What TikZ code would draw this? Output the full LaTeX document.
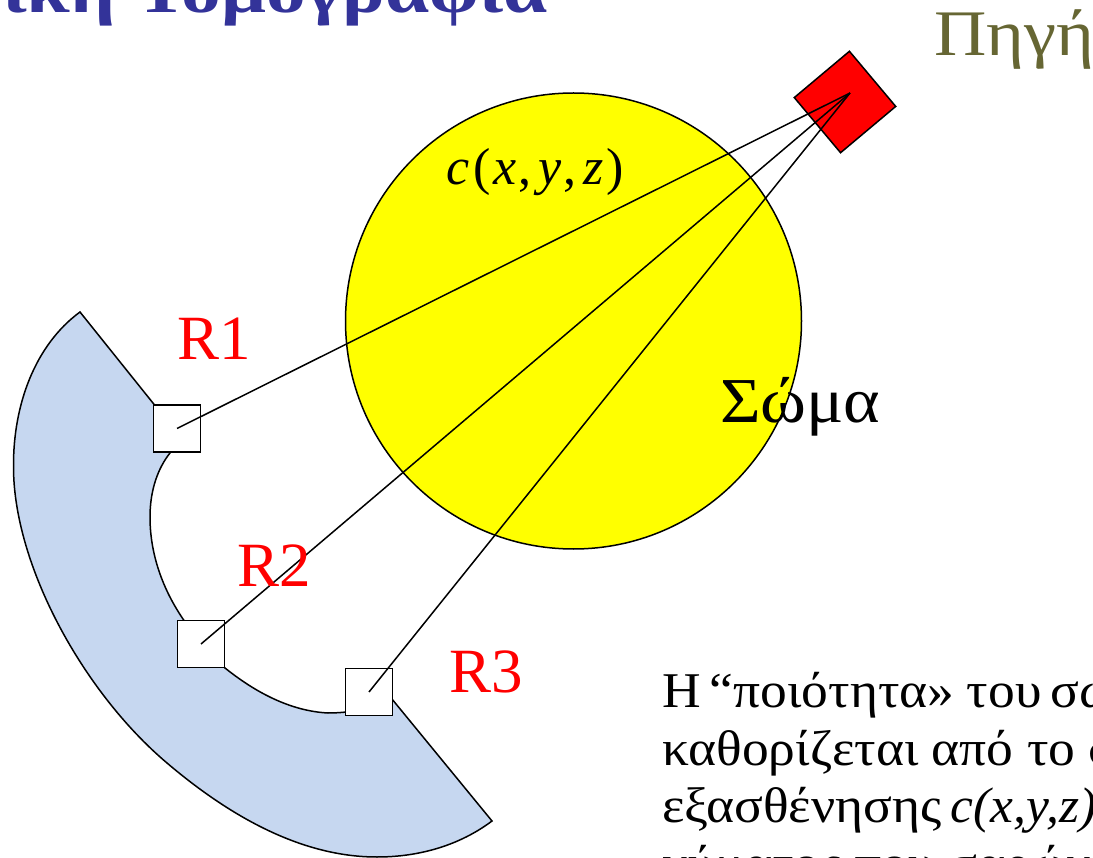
\documentclass[tikz,border=0pt]{standalone}
\usepackage{fontspec}
\setmainfont{Liberation Serif}
\newfontfamily\titlefont[FakeStretch=1.24]{Liberation Serif Bold}
\newfontfamily\widefont[FakeStretch=1.115]{Liberation Serif}
\newfontfamily\somafont[FakeStretch=1.09]{Liberation Serif}
\newfontfamily\bodyfont[FakeStretch=1.07,ItalicFont={Liberation Serif Italic},ItalicFeatures={FakeStretch=1.03}]{Liberation Serif}
\definecolor{titleblue}{RGB}{51,51,153}
\definecolor{olive}{RGB}{102,102,51}
\definecolor{bandblue}{RGB}{198,215,240}
\definecolor{bodyyellow}{RGB}{255,255,0}
\definecolor{srcred}{RGB}{255,0,0}
\tikzset{
  det/.style={draw=black,fill=white,line width=1.7pt,minimum size=47pt,inner sep=0pt,outer sep=0pt},
  ray/.style={draw=black,line width=1.5pt},
  lab/.style={inner sep=0pt,outer sep=0pt,anchor=base west},
  rlab/.style={lab,text=srcred,font=\fontsize{63}{63}\selectfont},
  para/.style={lab,font=\bodyfont\fontsize{50}{50}\selectfont}
}
\begin{document}
\begin{tikzpicture}[x=1pt,y=-1pt]
\useasboundingbox (0,0) rectangle (1093,858);
\clip (0,0) rectangle (1093,858);
\node[lab,anchor=base east,text=titleblue,font=\titlefont\fontsize{64}{64}\selectfont] (title) at (548,13) {νική Τομογραφία};
\node[lab,text=olive,font=\widefont\fontsize{65}{65}\selectfont] (source) at (934,56) {Πηγή};
% band
\path[fill=bandblue,draw=black,line width=1.5pt,line join=miter]
  (80,312) .. controls (35,345) and (13,405) .. (13.5,467)
  .. controls (13.5,565) and (83,692) .. (167,763)
  .. controls (240,825) and (310,857) .. (377,857)
  .. controls (420,857) and (460,845) .. (492,821)
  -- (378,682) -- (358,710)
  .. controls (350,712) and (338,713) .. (328,713)
  .. controls (290,711) and (255,692) .. (225,668)
  .. controls (205,650) and (194,635) .. (183,619)
  .. controls (160,585) and (150,550) .. (150,517)
  .. controls (150,490) and (158,468) .. (170,453)
  -- (177,433) -- cycle;
% body
\node[circle,draw=black,fill=bodyyellow,line width=1.5pt,minimum size=456pt,inner sep=0pt,outer sep=0pt] (body) at (573.5,321) {};
% source
\node[rectangle,rotate=40,draw=black,fill=srcred,line width=1.5pt,minimum size=72pt,inner sep=0pt,outer sep=0pt] (src) at (845,102) {};
\coordinate (focus) at (850,93);
\node[det] (r1) at (177,428.5) {};
\node[det] (r2) at (201,644) {};
\node[det] (r3) at (369,692) {};
\draw[ray] (focus) -- (r1.center);
\draw[ray] (focus) -- (r2.center);
\draw[ray] (focus) -- (r3.center);
\node[lab,font=\fontsize{52}{52}\selectfont] (cxyz) at (446,185) {\textit{c}\kern4pt(\kern3pt\textit{x}\kern2pt,\kern7pt\textit{y}\kern2pt,\kern7pt\textit{z}\kern3pt)};
\node[rlab] (l1) at (177,360) {R1};
\node[rlab] (l2) at (237,586) {R2};
\node[rlab] (l3) at (449,692) {R3};
\node[lab,font=\somafont\fontsize{64}{64}\selectfont] (soma) at (720,423) {Σώμα};
\node[para] (t1) at (662,707) {Η \kern-4pt“ποιότητα»\kern-1pt{} του\kern-4pt{} σώματος};
\node[para] (t2) at (662,765) {καθορίζεται από το συντελεστή};
\node[para] (t3) at (662,822) {εξασθένησης\kern-4pt{} \textit{c(x,y,z)} του};
\node[para] (t4) at (662,880) {κύματος που σαρώνει};
\end{tikzpicture}
\end{document}
